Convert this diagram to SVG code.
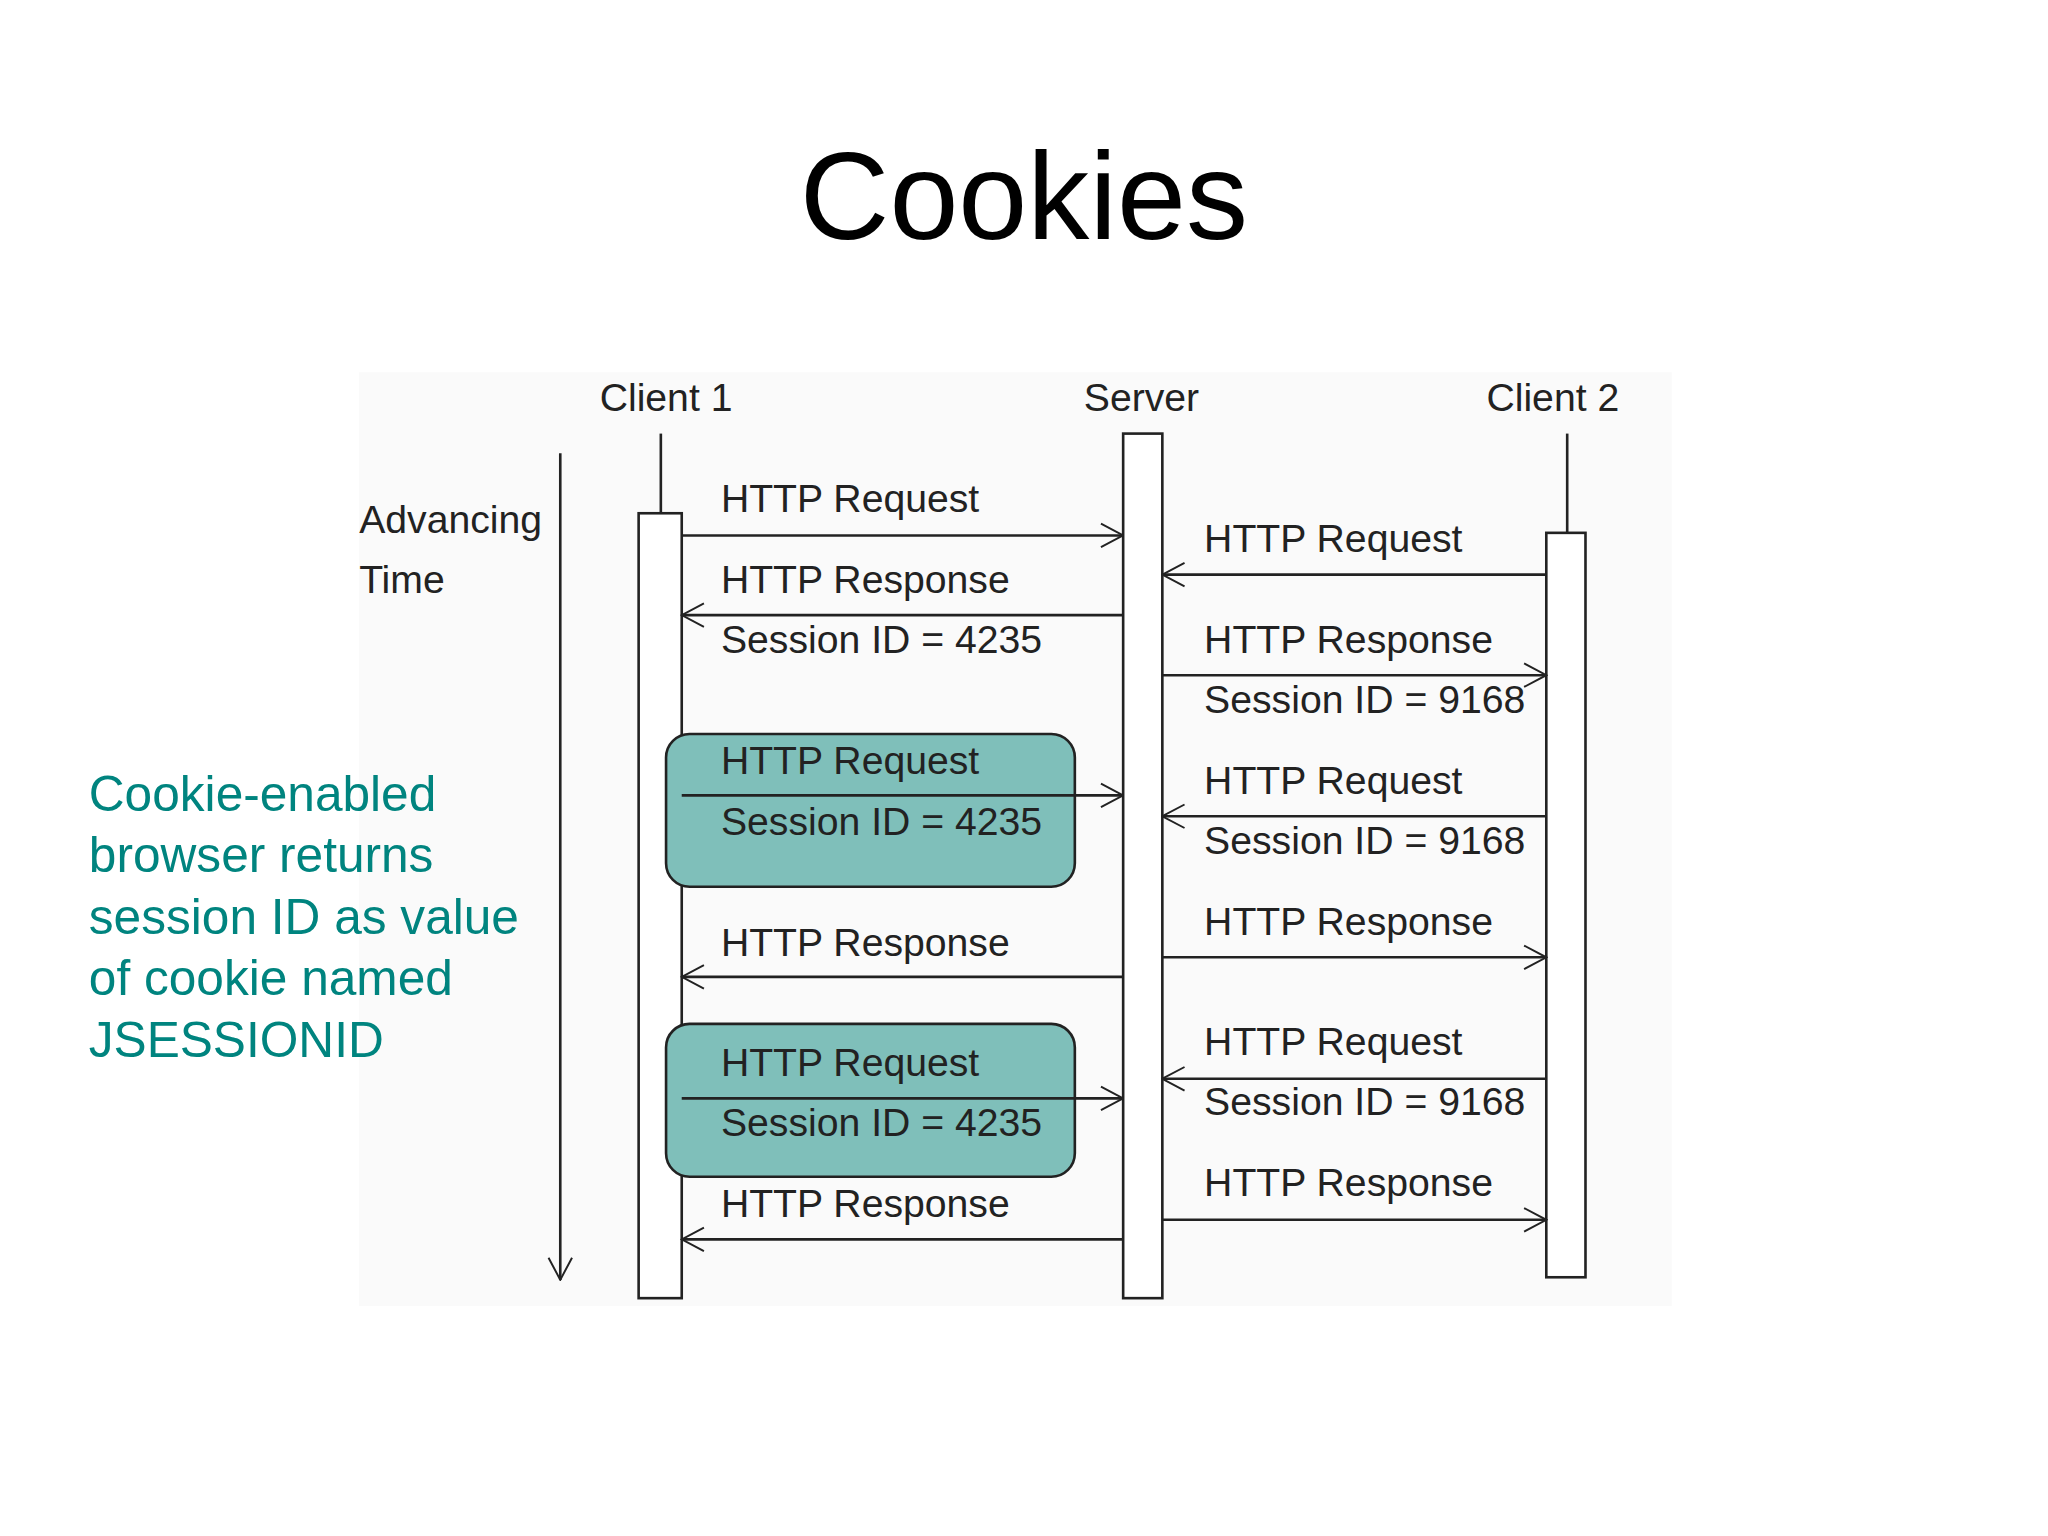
<svg xmlns="http://www.w3.org/2000/svg" width="2048" height="1536" viewBox="0 0 2048 1536">
<defs>
<marker id="a" viewBox="0 0 20 20" refX="19" refY="10" markerWidth="20" markerHeight="20" markerUnits="userSpaceOnUse" orient="auto"><path d="M2,1 L19,10 L2,19" fill="none" stroke="#222" stroke-width="1.5"/></marker>
</defs>
<style>
.l{font-family:"Liberation Sans",Arial,sans-serif;font-size:30px;fill:#222}
.c{stroke:#222;stroke-width:2;fill:none}
.b{fill:#fff;stroke:#222;stroke-width:2}
.t{font-family:"Liberation Sans",Arial,sans-serif;font-size:38px;fill:#00847f}
</style>
<rect width="2048" height="1536" fill="#fff"/>
<g transform="scale(1.306)">
<text x="784" y="183" text-anchor="middle" style="font-family:'Liberation Sans',Arial,sans-serif;font-size:95px;fill:#000">Cookies</text>
<rect x="275" y="285" width="1005" height="715" fill="#fafafa"/>
<g id="client1"><text class="l" x="510" y="315" text-anchor="middle">Client 1</text><line class="c" x1="506" y1="332" x2="506" y2="393"/><rect class="b" x="489" y="393" width="33" height="601"/></g>
<g id="server"><text class="l" x="874" y="315" text-anchor="middle">Server</text><rect class="b" x="860" y="332" width="30" height="662"/></g>
<g id="client2"><text class="l" x="1189" y="315" text-anchor="middle">Client 2</text><line class="c" x1="1200" y1="332" x2="1200" y2="408"/><rect class="b" x="1184" y="408" width="30" height="570"/></g>
<g id="time"><text class="l" x="275" y="408">Advancing</text><text class="l" x="275" y="454">Time</text></g>
<g id="box1"><rect x="510" y="562" width="313" height="117" rx="18" fill="#7fbfba" stroke="#222" stroke-width="2"/></g>
<g id="box2"><rect x="510" y="784" width="313" height="117" rx="18" fill="#7fbfba" stroke="#222" stroke-width="2"/></g>
<g id="connectors" class="c" marker-end="url(#a)">
<line x1="429" y1="347" x2="429" y2="980"/>
<line x1="522" y1="410" x2="860" y2="410"/>
<line x1="860" y1="471" x2="522" y2="471"/>
<line x1="522" y1="609" x2="860" y2="609"/>
<line x1="860" y1="748" x2="522" y2="748"/>
<line x1="522" y1="841" x2="860" y2="841"/>
<line x1="860" y1="949" x2="522" y2="949"/>
<line x1="1184" y1="440" x2="890" y2="440"/>
<line x1="890" y1="517" x2="1184" y2="517"/>
<line x1="1184" y1="625" x2="890" y2="625"/>
<line x1="890" y1="733" x2="1184" y2="733"/>
<line x1="1184" y1="826" x2="890" y2="826"/>
<line x1="890" y1="934" x2="1184" y2="934"/>
</g>
<g id="labels" class="l">
<text x="552" y="392">HTTP Request</text>
<text x="552" y="454">HTTP Response</text>
<text x="552" y="500">Session ID = 4235</text>
<text x="552" y="593">HTTP Request</text>
<text x="552" y="639">Session ID = 4235</text>
<text x="552" y="732">HTTP Response</text>
<text x="552" y="824">HTTP Request</text>
<text x="552" y="870">Session ID = 4235</text>
<text x="552" y="932">HTTP Response</text>
<text x="922" y="423">HTTP Request</text>
<text x="922" y="500">HTTP Response</text>
<text x="922" y="546">Session ID = 9168</text>
<text x="922" y="608">HTTP Request</text>
<text x="922" y="654">Session ID = 9168</text>
<text x="922" y="716">HTTP Response</text>
<text x="922" y="808">HTTP Request</text>
<text x="922" y="854">Session ID = 9168</text>
<text x="922" y="916">HTTP Response</text>
</g>
<g id="note" class="t">
<text x="68" y="621">Cookie-enabled</text>
<text x="68" y="668">browser returns</text>
<text x="68" y="715">session ID as value</text>
<text x="68" y="762">of cookie named</text>
<text x="68" y="809">JSESSIONID</text>
</g>
</g>
</svg>
